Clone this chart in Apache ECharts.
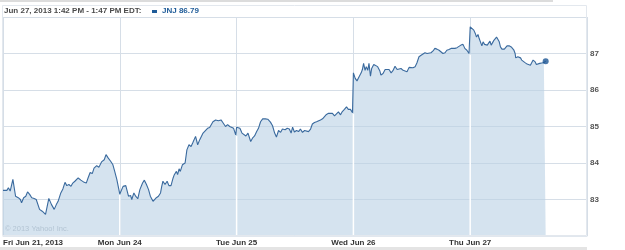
<!DOCTYPE html>
<html>
<head>
<meta charset="utf-8">
<script src="https://cdn.jsdelivr.net/npm/echarts@6/dist/echarts.min.js"></script>
<style>
html,body{margin:0;padding:0;background:#fff;}
#chart{width:625px;height:250px;}
</style>
</head>
<body>
<div id="chart"></div>
<script>
// ---- data ----
const dayLabels = ['Fri Jun 21, 2013', 'Mon Jun 24', 'Tue Jun 25', 'Wed Jun 26', 'Thu Jun 27'];
const headerText = 'Jun 27, 2013 1:42 PM - 1:47 PM EDT:';
const ticker = 'JNJ';
const copyrightText = '\u00A9 2013 Yahoo! Inc.';

const friTimes = ['9:30','9:43','9:48','9:54','10:03','10:12','10:21','10:28','10:32','10:39','10:46','10:52','10:59','11:06','11:14','11:21','11:32','11:41','11:52','12:03','12:12','12:21','12:28','12:34','12:43','12:50','12:57','13:03','13:10','13:17','13:23','13:30','13:41','13:50','14:01','14:08','14:14','14:21','14:28','14:34','14:43','14:50','14:59','15:08','15:14','15:21','15:30','15:37','15:43','15:50','15:55'];
const friValues = [83.25,83.25,83.32,83.23,83.55,83.09,83.05,83.00,82.91,83.05,83.09,83.21,83.14,83.05,83.03,83.00,82.73,82.68,82.59,83.03,82.86,82.73,82.86,82.95,83.18,83.29,83.47,83.38,83.41,83.36,83.45,83.50,83.59,83.53,83.47,83.45,83.59,83.74,83.71,83.86,83.93,83.88,84.03,84.09,84.23,84.14,84.04,83.95,83.77,83.55,83.50];

const monTimes = ['9:30','9:41','9:50','9:59','10:06','10:10','10:17','10:23','10:30','10:37','10:46','10:52','10:59','11:06','11:12','11:21','11:26','11:32','11:39','11:46','11:50','11:54','12:01','12:08','12:14','12:21','12:28','12:32','12:39','12:43','12:48','12:52','12:59','13:08','13:14','13:21','13:28','13:34','13:43','13:50','13:57','14:08','14:14','14:23','14:30','14:41','14:50','14:59','15:08','15:14','15:23','15:30','15:37','15:43','15:50','15:57'];
const monValues = [83.15,83.36,83.38,83.09,83.11,83.00,83.18,83.09,83.02,83.27,83.45,83.53,83.41,83.27,83.09,82.95,82.93,83.05,83.09,83.18,83.36,83.50,83.41,83.50,83.38,83.38,83.59,83.68,83.77,83.68,83.84,83.77,83.95,84.00,84.36,84.50,84.45,84.56,84.73,84.50,84.64,84.82,84.79,84.95,84.97,85.13,85.18,85.16,85.18,85.11,85.00,85.05,85.00,85.05,84.95,84.77];

const tueTimes = ['9:30','9:41','9:48','9:54','10:01','10:08','10:17','10:23','10:30','10:37','10:43','10:50','10:57','11:06','11:14','11:23','11:30','11:37','11:43','11:50','11:57','12:03','12:12','12:19','12:26','12:32','12:37','12:43','12:50','12:57','13:03','13:10','13:17','13:23','13:30','13:37','13:43','13:50','13:57','14:03','14:10','14:17','14:23','14:30','14:37','14:43','14:50','14:57','15:03','15:10','15:17','15:23','15:30','15:37','15:43','15:50','15:57'];
const tueValues = [84.98,84.95,84.82,84.86,84.74,84.82,84.59,84.68,84.74,84.86,84.95,85.13,85.21,85.21,85.20,85.12,85.02,84.82,84.71,84.89,84.84,84.93,84.91,84.95,84.93,84.82,84.98,84.85,84.89,84.86,84.93,84.84,84.89,84.85,84.86,84.93,85.07,85.11,85.13,85.16,85.18,85.21,85.24,85.33,85.36,85.34,85.36,85.29,85.34,85.40,85.32,85.41,85.47,85.54,85.47,85.47,85.38];

const wedTimes = ['9:30','9:36','9:42','9:49','9:56','10:00','10:04','10:09','10:13','10:18','10:22','10:27','10:31','10:38','10:44','10:51','10:58','11:02','11:09','11:16','11:22','11:29','11:36','11:42','11:49','11:56','12:02','12:09','12:16','12:22','12:29','12:36','12:42','12:49','12:56','13:02','13:09','13:16','13:22','13:29','13:36','13:42','13:49','13:56','14:02','14:09','14:16','14:22','14:29','14:36','14:42','14:49','14:56','15:02','15:09','15:16','15:22','15:29','15:36','15:42','15:49','15:56'];
const wedValues = [86.47,86.32,86.25,86.36,86.47,86.56,86.73,86.54,86.64,86.54,86.73,86.38,86.59,86.70,86.70,86.64,86.53,86.41,86.45,86.56,86.59,86.56,86.47,86.53,86.65,86.56,86.54,86.59,86.54,86.56,86.50,86.62,86.58,86.61,86.64,86.74,86.91,86.95,86.97,87.02,87.00,87.04,87.02,87.07,87.14,87.12,87.09,87.04,87.00,87.02,87.09,87.11,87.14,87.18,87.14,87.16,87.20,87.23,87.25,87.14,87.09,87.00];

const thuTimes = ['9:30','9:36','9:42','9:47','9:51','9:56','10:00','10:04','10:09','10:13','10:18','10:22','10:27','10:31','10:36','10:40','10:44','10:49','10:53','10:58','11:02','11:07','11:11','11:16','11:20','11:24','11:29','11:33','11:40','11:47','11:51','11:56','12:00','12:02','12:09','12:13','12:18','12:22','12:27','12:33','12:40','12:44','12:51','12:56','13:00','13:07','13:11','13:16','13:22','13:29','13:36','13:42'];
const thuValues = [87.73,87.68,87.64,87.55,87.45,87.52,87.41,87.36,87.21,87.32,87.25,87.30,87.23,87.27,87.34,87.23,87.27,87.36,87.41,87.45,87.41,87.32,87.18,87.12,87.15,87.12,87.14,87.21,87.21,87.18,87.21,87.09,87.00,86.88,86.91,86.86,86.88,86.82,86.77,86.75,86.71,86.74,86.68,86.73,86.82,86.77,86.70,86.68,86.73,86.74,86.75,86.79];

// ---- build series data ----
const days = [
  [friTimes, friValues], [monTimes, monValues], [tueTimes, tueValues],
  [wedTimes, wedValues], [thuTimes, thuValues]
];
const OPEN = 9 * 60 + 30, SESSION = 390;
function toMin(t) { const p = t.split(':'); return +p[0] * 60 + +p[1]; }
const points = [];
const dayEdges = [];
days.forEach((d, i) => {
  const n = Math.min(d[0].length, d[1].length);
  for (let k = 0; k < n; k++) {
    points.push([i + (toMin(d[0][k]) - OPEN) / SESSION, d[1][k]]);
  }
  if (i > 0) {
    const prev = days[i - 1][1];
    dayEdges.push([i, Math.min(prev[prev.length - 1], d[1][0])]);
  }
});
const last = points[points.length - 1];
const lastValue = thuValues[thuValues.length - 1];

const Y_MIN = 82, Y_MAX = 88;
const FONT = '"Liberation Sans", Arial, sans-serif';
const LINE = '#3a6a9e';

const chart = echarts.init(document.getElementById('chart'), null, { renderer: 'canvas' });
chart.setOption({
  animation: false,
  backgroundColor: '#ffffff',
  grid: { left: 2, right: 38, top: 17, height: 219, containLabel: false },
  xAxis: {
    type: 'value', min: 0, max: 5, interval: 1,
    axisLine: { show: true, lineStyle: { color: '#e1e7ee', width: 1 } },
    axisTick: { show: false },
    splitLine: { show: true, lineStyle: { color: '#d6dee7', width: 1 } },
    axisLabel: {
      show: true, margin: 3, color: '#333', fontFamily: FONT, fontSize: 8, fontWeight: 'bold',
      alignMinLabel: 'left', showMaxLabel: false,
      formatter: v => dayLabels[Math.round(v)] || ''
    }
  },
  yAxis: {
    type: 'value', position: 'right', min: Y_MIN, max: Y_MAX, interval: 1,
    axisLine: { show: false }, axisTick: { show: false },
    splitLine: { show: true, lineStyle: { color: '#d6dee7', width: 1 } },
    axisLabel: {
      show: true, margin: 3, color: '#555', fontFamily: FONT, fontSize: 8, fontWeight: 'bold',
      showMinLabel: false, showMaxLabel: false
    }
  },
  series: [
    {
      type: 'line', data: points, z: 1, symbol: 'none', smooth: false,
      lineStyle: { width: 0, opacity: 0 },
      areaStyle: { color: 'rgba(185,209,229,0.6)', opacity: 1, origin: 'start' }
    },
    {
      type: 'custom', z: 2, data: dayEdges,
      renderItem: (params, api) => {
        const x = api.value(0), v = api.value(1);
        const p0 = api.coord([x, Y_MIN]);
        const p1 = api.coord([x, v]);
        return { type: 'line', shape: { x1: p0[0], y1: p0[1], x2: p1[0], y2: p1[1] + 1 },
                 style: { stroke: '#ffffff', lineWidth: 1.5 } };
      }
    },
    {
      type: 'line', data: points, z: 3, symbol: 'none', smooth: false,
      lineStyle: { width: 1.1, color: LINE }
    },
    {
      type: 'scatter', data: [last], z: 4, symbol: 'circle', symbolSize: 6,
      itemStyle: { color: '#1b5594' }
    }
  ],
  graphic: [
    { type: 'rect', shape: { x: 0, y: 0, width: 553, height: 2 }, style: { fill: '#dcdcdc' }, z: 10 },
    { type: 'rect', shape: { x: 2.5, y: 5.5, width: 584, height: 230 }, style: { fill: 'none', stroke: '#e3e8ee', lineWidth: 1 }, z: 10 },
    { type: 'rect', shape: { x: 0, y: 247, width: 587, height: 3 }, style: { fill: '#e4e4e4' }, z: 10 },
    { type: 'text', left: 4, top: 7, z: 10,
      style: { text: headerText, fill: '#4a4a4a', font: 'bold 8px ' + FONT } },
    { type: 'rect', shape: { x: 152, y: 10, width: 5, height: 3 }, style: { fill: '#1f5c99' }, z: 10 },
    { type: 'text', left: 162, top: 7, z: 10,
      style: { text: ticker + ' ' + lastValue.toFixed(2), fill: '#1f5c99', font: 'bold 8px ' + FONT } },
    { type: 'text', left: 5, top: 225, z: 10,
      style: { text: copyrightText, fill: '#b3c4d3', font: '7.5px ' + FONT } }
  ]
});
</script>
</body>
</html>
